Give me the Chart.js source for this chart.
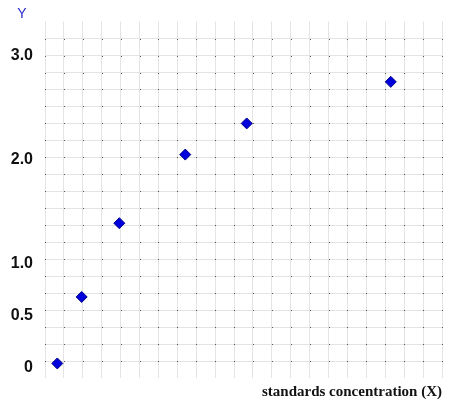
<!DOCTYPE html>
<html>
<head>
<meta charset="utf-8">
<script src="https://cdn.jsdelivr.net/npm/chart.js@4/dist/chart.umd.min.js"></script>
<style>
  body { margin: 0; background: #fff; }
  canvas { display: block; }
</style>
</head>
<body>
<canvas id="calibChart" width="476" height="415"></canvas>
<script>
// standards concentration (grid units) and measured Y
const concentration = [0.65, 1.94, 3.93, 7.42, 10.67, 18.29];
const response = [0.04, 0.68, 1.39, 2.05, 2.35, 2.75];

const yTickValues = [0, 0.5, 1, 2, 3];
const yTickLabels = ["0", "0.5", "1.0", "2.0", "3.0"];

const gridColor = "#e4e4e4";

// little dots where grid lines cross
const gridDots = {
  id: "gridDots",
  beforeDatasetsDraw(chart) {
    const ctx = chart.ctx;
    const xs = chart.scales.x;
    const ys = chart.scales.yg;
    ctx.save();
    ctx.fillStyle = "#555";
    for (let i = 0; i < xs.ticks.length; i++) {
      const px = Math.round(xs.getPixelForTick(i));
      for (let j = 1; j < ys.ticks.length - 1; j++) {
        const py = Math.round(ys.getPixelForTick(j));
        ctx.fillRect(px, py, 1, 1);
      }
    }
    ctx.restore();
  },
  afterDraw(chart) {
    const ctx = chart.ctx;
    ctx.save();
    ctx.fillStyle = "#2a2acc";
    ctx.font = "14px 'Liberation Sans', Arial, sans-serif";
    ctx.textAlign = "center";
    ctx.textBaseline = "middle";
    ctx.fillText("Y", 22, 14);
    ctx.restore();
  },
};

const ctx = document.getElementById("calibChart").getContext("2d");
new Chart(ctx, {
  type: "scatter",
  data: {
    datasets: [
      {
        label: "standards",
        data: concentration.map((c, i) => ({ x: c, y: response[i] })),
        pointStyle: "rectRot",
        pointRadius: 5.5,
        pointHoverRadius: 5.5,
        backgroundColor: "#0000dd",
        borderColor: "#00008a",
        borderWidth: 1,
      },
    ],
  },
  options: {
    responsive: false,
    animation: false,
    events: [],
    layout: {
      padding: { top: 21, right: 34, bottom: 14, left: 0 },
    },
    plugins: {
      legend: { display: false },
      tooltip: { enabled: false },
    },
    scales: {
      x: {
        type: "linear",
        min: 0,
        max: 21,
        ticks: { display: false, stepSize: 1 },
        grid: { color: gridColor, drawTicks: false },
        border: { display: false },
        title: {
          display: true,
          text: "standards concentration (X)",
          align: "end",
          color: "#111",
          font: { family: "'Liberation Serif', 'Times New Roman', serif", size: 15, weight: "bold" },
          padding: { top: 5, bottom: 0 },
        },
      },
      y: {
        type: "linear",
        position: "left",
        min: -0.1,
        max: 3.33,
        afterBuildTicks(scale) {
          scale.ticks = yTickValues.map((v) => ({ value: v }));
        },
        afterFit(scale) {
          scale.width = 45;
        },
        ticks: {
          padding: 12,
          color: "#111",
          font: { family: "'Liberation Sans', Arial, sans-serif", size: 16, weight: "bold" },
          callback: (value) => {
            const k = yTickValues.indexOf(value);
            return k >= 0 ? yTickLabels[k] : "";
          },
        },
        grid: { display: false, drawTicks: false },
        border: { display: false },
      },
      yg: {
        type: "linear",
        position: "right",
        min: 0,
        max: 21,
        ticks: { display: false, stepSize: 1 },
        grid: {
          drawTicks: false,
          color: (c) => (c.index === 0 || c.index === 21 ? "rgba(0,0,0,0)" : gridColor),
        },
        border: { display: false },
      },
    },
  },
  plugins: [gridDots],
});
</script>
</body>
</html>
